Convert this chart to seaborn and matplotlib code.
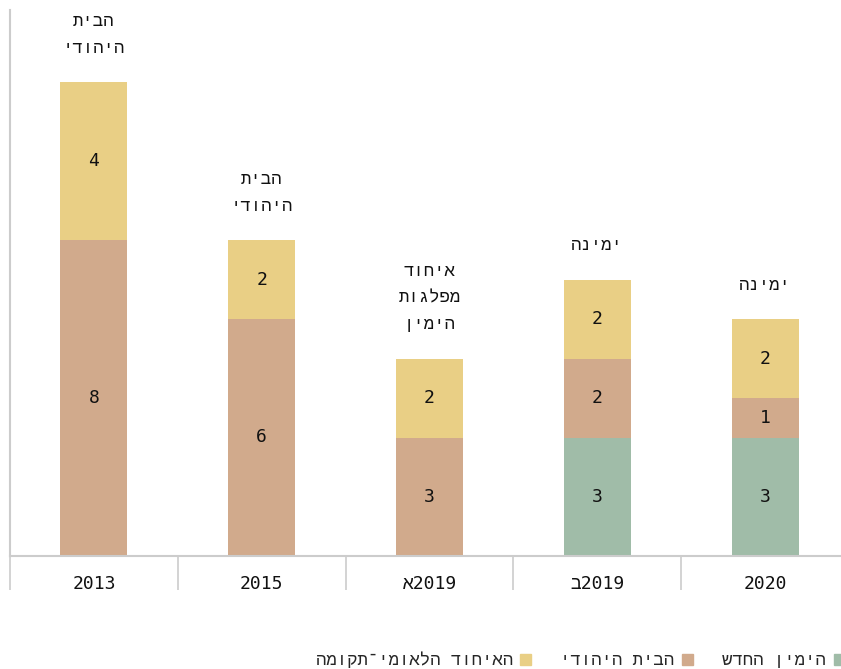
import re
import matplotlib
matplotlib.use("Agg")
import matplotlib.pyplot as plt
from matplotlib.patches import Patch
import seaborn as sns
import pandas as pd

# ---- data ----
categories = ["2013", "2015", "2019א", "2019ב", "2020"]
new_right = [0, 0, 0, 3, 3]          # הימין החדש
jewish_home = [8, 6, 3, 2, 1]        # הבית היהודי
national_union = [4, 2, 2, 2, 2]     # האיחוד הלאומי־תקומה
list_names = [["הבית", "היהודי"], ["הבית", "היהודי"],
              ["איחוד", "מפלגות", "הימין"], ["ימינה"], ["ימינה"]]
series_names = ["הימין החדש", "הבית היהודי", "האיחוד הלאומי־תקומה"]
colors = ["#a0bca8", "#d1aa8c", "#e9cf85"]


def vis(s):
    """Visual (left-to-right) order for right-to-left text."""
    runs = re.findall(r"\d+|\D+", s)
    return "".join(r if r.isdigit() else r[::-1] for r in reversed(runs))


sns.set_theme(style="white")
NUM_FONT = ["DejaVu Sans Mono", "Liberation Mono", "DejaVu Sans"]
HEB_FONT = ["Liberation Mono", "DejaVu Sans Mono", "DejaVu Sans"]
plt.rcParams["font.family"] = NUM_FONT
FS_NUM = 13
FS_HEB = 12.5
GRID = "#cccccc"
TXT = "#111111"

df = pd.DataFrame({
    "cat": [vis(c) for c in categories],
    "g": new_right,
    "t": jewish_home,
    "y": national_union,
})
df["gt"] = df["g"] + df["t"]
df["total"] = df["gt"] + df["y"]

fig = plt.figure(figsize=(8.41, 6.69), dpi=100)
ax = fig.add_axes([10 / 841, 113 / 669, 839 / 841, 546 / 669])

for col, c in [("total", colors[2]), ("gt", colors[1]), ("g", colors[0])]:
    sns.barplot(data=df, x="cat", y=col, color=c, saturation=1, width=0.4,
                edgecolor="none", ax=ax)

# segment values and list names
for i in range(len(categories)):
    bottom = 0
    for vals in (new_right, jewish_home, national_union):
        v = vals[i]
        if v > 0:
            ax.text(i, bottom + v / 2, str(v), ha="center", va="center",
                    fontsize=FS_NUM, color=TXT, family=NUM_FONT)
        bottom += v
    total = df["total"].iloc[i]
    ax.annotate("\n".join(vis(w) for w in list_names[i]), (i, total),
                xytext=(0, 19), textcoords="offset points",
                ha="center", va="bottom", fontsize=FS_HEB, color=TXT,
                linespacing=1.95, family=HEB_FONT)

ax.set_xlim(-0.5, len(categories) - 0.5)
ax.set_ylim(0, 546 / 39.5)
ax.set_xlabel("")
ax.set_ylabel("")
ax.set_yticks([])
for s in ("top", "right"):
    ax.spines[s].set_visible(False)
for s in ("left", "bottom"):
    ax.spines[s].set_color(GRID)
    ax.spines[s].set_linewidth(1.5)

ax.set_xticks(range(len(categories)))
ax.set_xticks([i - 0.5 for i in range(len(categories) + 1)], minor=True)
ax.tick_params(axis="x", which="major", length=0, pad=14, labelsize=FS_NUM,
               labelcolor=TXT)
ax.tick_params(axis="x", which="minor", bottom=True, length=24.5, width=1.2,
               color=GRID, direction="out")

handles = [Patch(color=colors[2]), Patch(color=colors[1]), Patch(color=colors[0])]
labels = [vis(series_names[2]), vis(series_names[1]), vis(series_names[0])]
fig.legend(handles, labels, loc="lower right", bbox_to_anchor=(1.008, -0.004),
           ncol=3, frameon=False, markerfirst=False,
           prop={"family": HEB_FONT, "size": FS_HEB},
           handlelength=0.6, handleheight=0.6, handletextpad=0.45,
           columnspacing=1.7, borderpad=0.2, borderaxespad=0.0)

fig.savefig("out.png", dpi=100)
